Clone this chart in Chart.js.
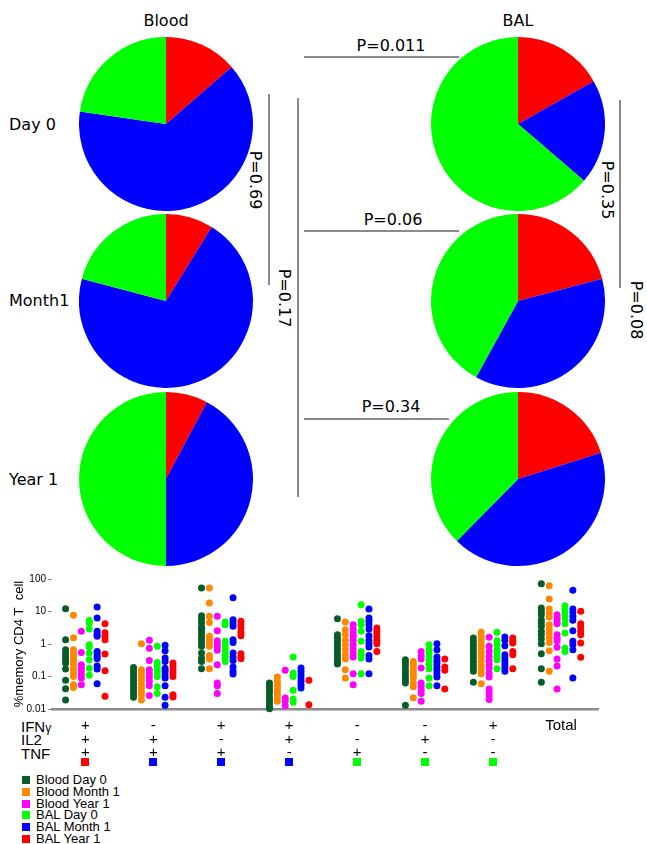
<!DOCTYPE html>
<html>
<head>
<meta charset="utf-8">
<script src="https://cdn.jsdelivr.net/npm/chart.js@4.4.1/dist/chart.umd.min.js"></script>
<style>
    body { margin: 0; width: 647px; height: 844px; background: #fff; position: relative; overflow: hidden; font-family: "DejaVu Sans", sans-serif; color: #000; }
    .t { position: absolute; white-space: nowrap; transform: translate(-50%, -50%); font-size: 16px; }
    .lbl { position: absolute; white-space: nowrap; transform: translateY(-50%); font-size: 16px; }
    .v { transform: translate(-50%, -50%) rotate(90deg); }
    .line { position: absolute; background: #8a8a8a; }
    .row { position: absolute; white-space: nowrap; transform: translateY(-50%); font: 15px "Liberation Sans", Arial, sans-serif; }
    .leg { position: absolute; left: 22px; font: 13px "Liberation Sans", Arial, sans-serif; white-space: nowrap; }
    .leg span { display: inline-block; width: 8px; height: 8px; margin-right: 6px; vertical-align: -0px; }
</style>
</head>
<body>

<div class="t" style="left:166px;top:20px">Blood</div>
<div class="t" style="left:518px;top:20px">BAL</div>

<div class="lbl" style="left:9px;top:124px">Day 0</div>
<div class="lbl" style="left:9px;top:300px">Month1</div>
<div class="lbl" style="left:9px;top:479px">Year 1</div>

<div class="t" style="left:391px;top:45px">P=0.011</div>
<div class="line" style="left:304px;top:56px;width:155px;height:2px"></div>
<div class="t" style="left:393px;top:219px">P=0.06</div>
<div class="line" style="left:304px;top:230px;width:155px;height:2px"></div>
<div class="t" style="left:391px;top:406px">P=0.34</div>
<div class="line" style="left:304px;top:418px;width:145px;height:2px"></div>

<div class="t v" style="left:255px;top:180px">P=0.69</div>
<div class="line" style="left:268px;top:94px;width:2px;height:191px"></div>
<div class="t v" style="left:284px;top:298px">P=0.17</div>
<div class="line" style="left:297px;top:98px;width:2px;height:399px"></div>
<div class="t v" style="left:607px;top:190px">P=0.35</div>
<div class="line" style="left:619px;top:100px;width:2px;height:188px"></div>
<div class="t v" style="left:636px;top:310px">P=0.08</div>

<div class="row" style="left:21px;top:726px">IFN<span style="font-size:12px">γ</span></div>
<div class="row" style="left:21px;top:739px">IL2</div>
<div class="row" style="left:21px;top:753px">TNF</div>

<canvas id="scatter" width="647" height="200" style="position:absolute;left:0;top:570px;width:647px;height:200px"></canvas>

<script>
// pie fractions (%), order: red, blue, green, clockwise from 12 o'clock
const sliceNames = ["IFNγ+IL2+TNF+", "TNF+ (IL2+)", "TNF- / single"];
const sliceColors = ["#ff0000", "#0000ff", "#00ff00"];
const bloodRed = [13.6, 8.8, 7.8];
const bloodBlue = [63.7, 70.3, 42.2];
const bloodGreen = [22.7, 20.9, 50.0];
const balRed = [16.8, 20.9, 20.1];
const balBlue = [19.5, 37.1, 42.3];
const balGreen = [63.7, 42.0, 37.6];

// scatter categories
const ifng = ["+", "-", "+", "+", "-", "-", "+"];
const il2 = ["+", "+", "-", "+", "-", "+", "-"];
const tnf = ["+", "+", "+", "-", "+", "-", "-"];
const squareColors = ["#ff0000", "#0000ff", "#0000ff", "#0000ff", "#00ff00", "#00ff00", "#00ff00", null];
const yTickValues = [0.01, 0.1, 1, 10, 100];
const yTickLabels = ["0.01", "0.1", "1", "10", "100"];

const seriesNames = ["Blood Day 0", "Blood Month 1", "Blood Year 1", "BAL Day 0", "BAL Month 1", "BAL Year 1"];
const seriesColors = ["#075c2a", "#ff8800", "#ff00ff", "#00ff00", "#0000ff", "#ff0000"];

// % memory CD4 T cells, one list per cytokine group (8 groups, last = Total)
const bloodDay0 = [
    [12.2, 1.36, 0.67, 0.53, 0.42, 0.33, 0.26, 0.17, 0.076, 0.042, 0.019],
    [0.19, 0.15, 0.12, 0.094, 0.074, 0.059, 0.046, 0.037, 0.029, 0.023],
    [52.9, 7.4, 5.9, 4.4, 3.3, 2.76, 2.18, 1.72, 1.36, 1.07, 0.85, 0.53, 0.37, 0.29, 0.174],
    [0.063, 0.05, 0.039, 0.031, 0.0234, 0.0185, 0.0146, 0.0115, 0.0102],
    [6.0, 1.94, 1.53, 1.21, 0.95, 0.75, 0.59, 0.47, 0.37, 0.29, 0.243],
    [0.33, 0.26, 0.21, 0.16, 0.128, 0.10, 0.08, 0.063, 0.013],
    [1.53, 1.21, 0.95, 0.75, 0.59, 0.47, 0.37, 0.29, 0.23, 0.183, 0.144, 0.066],
    [71.8, 12.8, 10.1, 8.0, 5.6, 4.4, 3.5, 2.45, 1.94, 1.43, 1.02, 0.50, 0.174, 0.066]
];
const bloodMonth1 = [
    [7.6, 1.57, 0.67, 0.50, 0.40, 0.30, 0.23, 0.17, 0.128, 0.10, 0.056, 0.046],
    [1.02, 0.16, 0.13, 0.10, 0.076, 0.056, 0.044, 0.033, 0.026, 0.019],
    [52.9, 18.3, 7.1, 4.6, 1.72, 1.36, 1.07, 0.85, 0.44, 0.345, 0.174],
    [0.097, 0.071, 0.056, 0.044, 0.035, 0.0276, 0.0218, 0.0172],
    [4.75, 2.76, 1.94, 1.30, 0.95, 0.67, 0.47, 0.345, 0.16, 0.09],
    [0.29, 0.23, 0.183, 0.144, 0.114, 0.09, 0.063, 0.048, 0.022],
    [2.29, 1.72, 1.30, 0.95, 0.72, 0.53, 0.40, 0.29, 0.216, 0.16, 0.122, 0.06],
    [62, 24.3, 11.9, 9.0, 6.8, 3.94, 2.90, 2.18, 1.60, 1.12, 0.62, 0.144]
];
const bloodYear1 = [
    [2.45, 0.55, 0.23, 0.18, 0.144, 0.114, 0.09, 0.056],
    [1.30, 0.74, 0.31, 0.16, 0.122, 0.097, 0.071, 0.052, 0.026],
    [7.1, 2.57, 1.27, 1.02, 0.81, 0.64, 0.23, 0.063, 0.052, 0.030],
    [0.155, 0.0218, 0.0172, 0.0127],
    [3.94, 2.90, 2.18, 1.72, 1.30, 0.95, 0.72, 0.53, 0.40, 0.122, 0.056],
    [0.59, 0.44, 0.345, 0.183, 0.063, 0.05, 0.039, 0.03, 0.0172],
    [1.60, 0.85, 0.59, 0.42, 0.31, 0.23, 0.183, 0.128, 0.097, 0.041, 0.032, 0.0253, 0.0195],
    [8.0, 6.3, 4.98, 4.2, 1.94, 1.53, 1.27, 0.79, 0.345, 0.21, 0.041]
];
const balDay0 = [
    [5.3, 4.4, 2.9, 0.95, 0.81, 0.53, 0.33, 0.18, 0.109],
    [0.85, 0.27, 0.21, 0.16, 0.128, 0.10, 0.048, 0.030],
    [4.75, 3.94, 1.21, 0.95, 0.75, 0.59, 0.47, 0.37, 0.29],
    [0.40, 0.128, 0.10, 0.0375, 0.0203, 0.016],
    [16.2, 4.98, 3.94, 2.45, 1.21, 0.59, 0.47, 0.37, 0.122],
    [0.95, 0.67, 0.53, 0.40, 0.31, 0.23, 0.174, 0.09, 0.052],
    [2.29, 1.27, 0.95, 0.67, 0.53, 0.40, 0.33, 0.174],
    [15.1, 11.9, 9.4, 7.4, 5.9, 4.2, 2.18, 0.75, 0.59]
];
const balMonth1 = [
    [13.7, 6.3, 2.45, 2.0, 1.72, 0.59, 0.50, 0.42, 0.35, 0.21, 0.17, 0.06],
    [0.91, 0.62, 0.37, 0.29, 0.18, 0.144, 0.114, 0.09, 0.052, 0.023, 0.013],
    [26.7, 5.6, 4.4, 3.5, 1.36, 1.12, 0.53, 0.40, 0.31, 0.196, 0.144, 0.119],
    [0.183, 0.144, 0.114, 0.09, 0.071, 0.056, 0.044],
    [11.9, 6.3, 4.98, 3.94, 2.90, 1.80, 1.30, 1.02, 0.81, 0.44, 0.345, 0.122],
    [1.02, 0.67, 0.40, 0.31, 0.25, 0.196, 0.155, 0.122, 0.097, 0.052],
    [1.64, 1.30, 0.89, 0.47, 0.37, 0.29, 0.23, 0.183, 0.144],
    [44.8, 11.9, 9.4, 7.1, 5.4, 2.57, 1.21, 0.95, 0.67, 0.09]
];
const balYear1 = [
    [4.2, 2.2, 1.7, 1.35, 0.49, 0.15, 0.0245],
    [0.26, 0.21, 0.16, 0.128, 0.10, 0.0276, 0.0234],
    [4.98, 3.94, 3.1, 2.29, 1.80, 0.50, 0.40, 0.35],
    [0.076, 0.0136],
    [3.1, 2.45, 1.94, 1.53, 1.21, 1.02, 0.59],
    [0.345, 0.196, 0.155, 0.041],
    [1.53, 1.25, 1.07, 0.59, 0.47, 0.174],
    [10.1, 4.2, 3.3, 2.45, 1.94, 1.07, 0.39]
];

const makePie = (cx, cy, values) => {
    const c = document.createElement("canvas");
    c.width = 174;
    c.height = 174;
    c.style.cssText = `position:absolute;left:${cx - 87}px;top:${cy - 87}px;width:174px;height:174px`;
    document.body.appendChild(c);

    new Chart(c, {
        type: "pie",
        data: {
            labels: sliceNames,
            datasets: [{
                data: values,
                backgroundColor: sliceColors,
                borderWidth: 0
            }]
        },
        options: {
            responsive: false,
            animation: false,
            events: [],
            layout: { padding: 0 },
            plugins: {
                legend: { display: false },
                tooltip: { enabled: false }
            }
        }
    });
}

const pieY = [124, 301, 479];
pieY.forEach((y, i) => {
    makePie(166, y, [bloodRed[i], bloodBlue[i], bloodGreen[i]]);
    makePie(518, y, [balRed[i], balBlue[i], balGreen[i]]);
});

// legend
seriesNames.forEach((name, i) => {
    const d = document.createElement("div");
    d.className = "leg";
    d.style.top = (772 + i * 11.8) + "px";
    d.innerHTML = `<span style="background:${seriesColors[i]}"></span>${name}`;
    document.body.appendChild(d);
});

const seriesValues = [bloodDay0, bloodMonth1, bloodYear1, balDay0, balMonth1, balYear1];
const colStep = 0.116;

const datasets = seriesValues.map((groups, s) => ({
    label: seriesNames[s],
    data: groups.flatMap((vals, g) => vals.map(v => ({ x: g + (s - 2.5) * colStep, y: v }))),
    backgroundColor: seriesColors[s],
    borderWidth: 0,
    pointRadius: 3.5,
    clip: false
}));

const squares = {
    id: "squares",
    afterDraw(chart) {
        const ctx = chart.ctx;
        const xs = chart.scales.x;
        squareColors.forEach((col, i) => {
            if (!col) return;
            const x = xs.getPixelForValue(i);
            ctx.fillStyle = col;
            ctx.fillRect(Math.round(x - 4), 188, 8, 8);
        });
    }
};

new Chart(document.getElementById("scatter"), {
    type: "scatter",
    data: { datasets },
    plugins: [squares],
    options: {
        responsive: false,
        animation: false,
        events: [],
        layout: { padding: { left: 0, right: 49, top: 9, bottom: 0 } },
        plugins: {
            legend: { display: false },
            tooltip: { enabled: false }
        },
        scales: {
            x: {
                type: "linear",
                bounds: "data",
                min: -0.49,
                max: 7.544,
                afterBuildTicks: s => { s.ticks = squareColors.map((c, i) => ({ value: i })); },
                afterFit: s => { s.height = 61; },
                grid: { display: false, drawTicks: false },
                border: { display: true, color: "#8a8a8a", width: 2.5 },
                ticks: {
                    autoSkip: false,
                    maxRotation: 0,
                    padding: 10,
                    color: "#000",
                    font: { family: "Liberation Sans", size: 15, lineHeight: "13.7px" },
                    callback: v => v < ifng.length ? [ifng[v], il2[v], tnf[v]] : "Total"
                }
            },
            y: {
                type: "logarithmic",
                bounds: "data",
                min: 0.01,
                max: 100,
                afterBuildTicks: s => { s.ticks = yTickValues.map(v => ({ value: v })); },
                afterFit: s => { s.width = 52; },
                grid: { drawOnChartArea: false, drawTicks: true, tickLength: 4, color: "#8a8a8a" },
                border: { display: false },
                ticks: {
                    padding: 2,
                    color: "#000",
                    font: { family: "Liberation Sans", size: 10 },
                    callback: v => yTickLabels[yTickValues.indexOf(v)]
                },
                title: {
                    display: true,
                    text: "%memory CD4 T  cell",
                    color: "#000",
                    padding: { top: 12, bottom: 0 },
                    font: { family: "Liberation Sans", size: 13 }
                }
            }
        }
    }
});
</script>
</body>
</html>
